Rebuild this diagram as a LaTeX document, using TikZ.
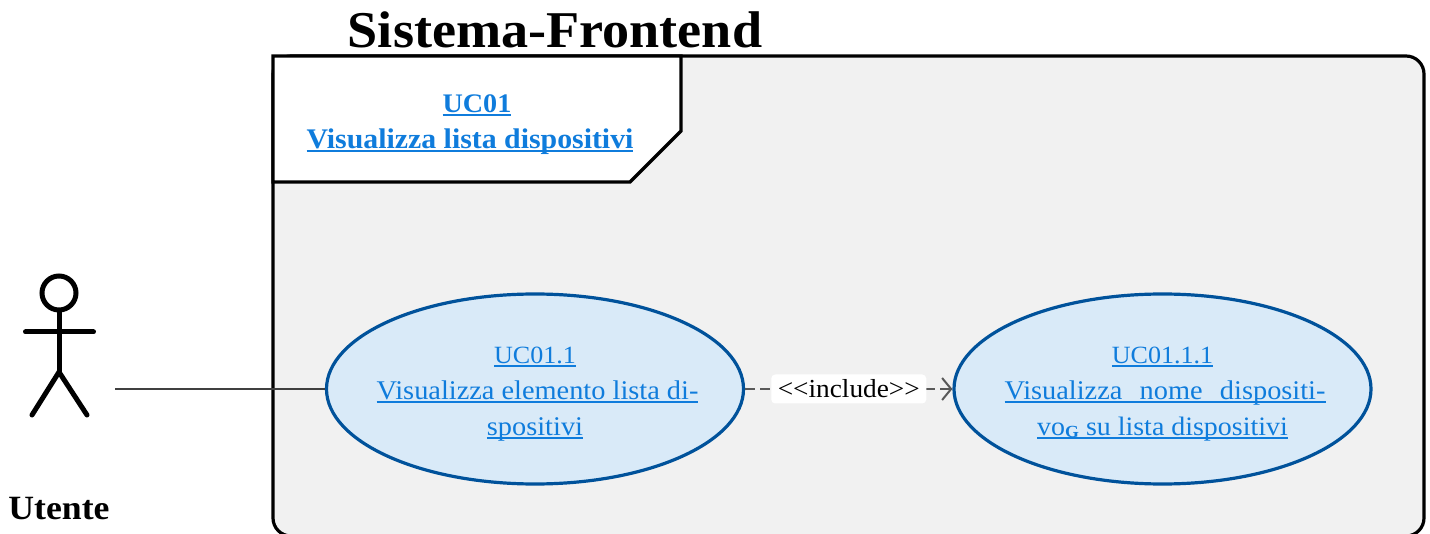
\documentclass[tikz,border=0pt]{standalone}
\usepackage{fontspec}
\setmainfont[FakeStretch=1.05]{Liberation Serif}
\usetikzlibrary{shapes.geometric,arrows.meta}
\definecolor{linkblue}{HTML}{0F7CDC}
\definecolor{ucfill}{HTML}{D9EAF8}
\definecolor{ucline}{HTML}{00529B}
\definecolor{sysfill}{HTML}{F1F1F1}
\newcommand\ulx[1]{\sbox0{#1}\usebox0\llap{\rule[-3pt]{\wd0}{1.3pt}}}
\newcommand\ulb[1]{\sbox0{#1}\usebox0\llap{\rule[-3pt]{\wd0}{1.8pt}}}
\newcommand\idsize{\fontsize{24.8}{36}\selectfont}
\tikzset{
  uc/.style={ellipse,draw=ucline,fill=ucfill,line width=3.2pt,minimum width=417pt,minimum height=190pt,inner xsep=-80pt,inner ysep=-20pt,
    align=center,text=linkblue,font=\fontsize{27}{36}\selectfont},
  actorline/.style={line width=5pt,line cap=round,black},
  titletext/.style={font=\fontsize{51.6}{54}\selectfont\bfseries,inner sep=0pt},
}
\begin{document}
\begin{tikzpicture}[x=1pt,y=-1pt]
\useasboundingbox (0,0) rectangle (1430,534);
\clip (0,0) rectangle (1430,534);
\fill[white] (0,0) rectangle (1430,534);
\draw[line width=3.2pt,fill=sysfill,rounded corners=18pt] (273,56) rectangle (1424,536);
\draw[line width=3.2pt,fill=white] (273,56) -- (681,56) -- (681,131) -- (630,182) -- (273,182) -- cycle;
\node[titletext] (title) at (555,30) {Sistema-Frontend};
\node[align=center,text=linkblue,inner sep=0pt,font=\fontsize{28.4}{36}\selectfont\bfseries] (pkg) at (470,125) {\hspace{14pt}\ulb{\fontsize{26.8}{36}\selectfont UC01}\\\ulb{Visualizza lista dispositivi}};
\node[uc] (uc1) at (535,389) {\rule{0pt}{27pt}\ulx{\idsize UC01.1}\\\hspace{5pt}\ulx{Visualizza elemento lista di-}\\\ulx{spositivi}};
\node[uc] (uc2) at (1162.5,389) {\rule{0pt}{27pt}\ulx{\idsize UC01.1.1}\\\hspace{5pt}\ulx{\makebox[321pt][s]{Visualizza\hfill nome\hfill dispositi-}}\\\ulx{\fontsize{26.6}{36}\selectfont vo\raisebox{-2pt}{\fontsize{17}{20}\selectfont\bfseries G} su lista dispositivi}};
% actor
\node[circle,draw,line width=5pt,minimum size=34pt,inner sep=0pt] (head) at (59,293) {};
\coordinate (hip) at (59,372);
\coordinate (armL) at (25.5,332);
\coordinate (armR) at (93.5,332);
\coordinate (legL) at (32,415);
\coordinate (legR) at (87,415);
\coordinate (actorend) at (115,389);
\draw[actorline] (head) -- (hip);
\draw[actorline] (armL) -- (armR);
\draw[actorline] (legL) -- (hip) -- (legR);
\node[font=\fontsize{34}{38}\selectfont\bfseries,inner sep=0pt] (utente) at (59,509) {Utente};
\draw[line width=1.5pt,draw=black!75] (actorend) -- (uc1);
\draw[line width=2pt,draw=black!65,dash pattern=on 9.5pt off 5.5pt,-{Straight Barb[length=9pt,width=22pt,line width=2pt]}] (uc1) -- (uc2)
  node[pos=0.5,fill=white,rounded corners=4pt,text=black,inner sep=0pt,minimum width=155pt,minimum height=29pt,font=\fontsize{26}{30}\selectfont] (inc) {<{}<include>{}>};
\end{tikzpicture}
\end{document}
